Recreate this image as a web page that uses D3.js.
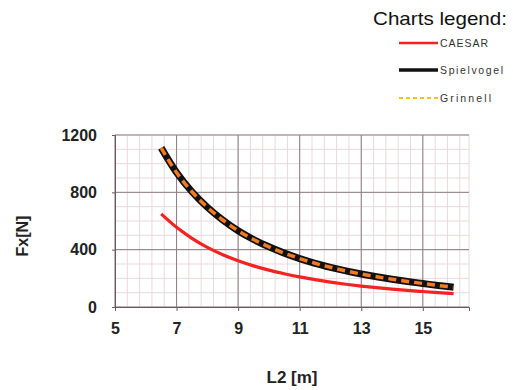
<!DOCTYPE html>
<html>
<head>
<meta charset="utf-8">
<script src="https://cdn.jsdelivr.net/npm/d3@7/dist/d3.min.js"></script>
<style>
  html, body { margin: 0; padding: 0; background: #fff; }
  svg { display: block; font-family: "Liberation Sans", Arial, sans-serif; }
</style>
</head>
<body>
<svg id="chart" width="513" height="390"></svg>
<script>
// Cable length L2 [m] against horizontal force Fx [N]
const lengths = [6.5, 7, 7.5, 8, 8.5, 9, 9.5, 10, 10.5, 11, 11.5, 12, 12.5, 13, 13.5, 14, 14.5, 15, 15.5, 16];
const caesar = [650, 556, 479, 416, 365, 323, 287, 257, 232, 210, 191, 174, 159, 146, 135, 125, 116, 108, 100, 93];
const spielvogel = [1110, 938, 804, 696, 607, 532, 471, 420, 376, 338, 305, 277, 252, 230, 211, 194, 178, 164, 150, 138];
const grinnell = [1110, 938, 804, 696, 607, 532, 471, 420, 376, 338, 305, 277, 252, 230, 211, 194, 178, 164, 150, 138];

const xTicks = [5, 7, 9, 11, 13, 15];
const yTicks = [0, 400, 800, 1200];
const legendNames = ["CAESAR", "Spielvogel", "Grinnell"];

const svg = d3.select("#chart");
const x = d3.scaleLinear().domain([5, 16.5]).range([115, 469]);
const y = d3.scaleLinear().domain([0, 1200]).range([307, 135]);

// grid: minor every 0.4 m / 100 N, major every 2 m / 400 N
const grid = svg.append("g");
const minorX = d3.range(5, 16.5 + 1e-9, 0.4).concat([16.5]);
const minorY = d3.range(0, 1200 + 1e-9, 100);
grid.selectAll(".mx").data(minorX).join("line")
  .attr("x1", d => x(d)).attr("x2", d => x(d))
  .attr("y1", y(0)).attr("y2", y(1200))
  .attr("stroke", "#ead9dc").attr("stroke-width", 1);
grid.selectAll(".my").data(minorY).join("line")
  .attr("x1", x(5)).attr("x2", x(16.5))
  .attr("y1", d => y(d)).attr("y2", d => y(d))
  .attr("stroke", "#ead9dc").attr("stroke-width", 1);
grid.selectAll(".Mx").data(xTicks).join("line")
  .attr("x1", d => x(d)).attr("x2", d => x(d))
  .attr("y1", y(0)).attr("y2", y(1200))
  .attr("stroke", "#8d7c82").attr("stroke-width", 1);
grid.selectAll(".My").data(yTicks).join("line")
  .attr("x1", x(5)).attr("x2", x(16.5))
  .attr("y1", d => y(d)).attr("y2", d => y(d))
  .attr("stroke", "#8d7c82").attr("stroke-width", 1);

// axes
const xAxis = svg.append("g").attr("transform", `translate(0,${y(0)})`)
  .call(d3.axisBottom(x).tickValues(xTicks).tickSize(4).tickPadding(12).tickFormat(d3.format("d")));
xAxis.select(".domain").attr("stroke", "#6a5a60");
xAxis.selectAll(".tick line").attr("stroke", "#6a5a60");
xAxis.selectAll("text").attr("font-size", 16).attr("fill", "#222").attr("font-weight", "bold");

const yAxis = svg.append("g").attr("transform", `translate(${x(5)},0)`)
  .call(d3.axisLeft(y).tickValues(yTicks).tickSize(3).tickPadding(15).tickFormat(d3.format("d")));
yAxis.select(".domain").attr("stroke", "#6a5a60");
yAxis.selectAll(".tick line").attr("stroke", "#6a5a60");
yAxis.selectAll("text").attr("font-size", 16).attr("fill", "#222").attr("font-weight", "bold");

// axis titles
svg.append("text").attr("x", 292).attr("y", 383).attr("text-anchor", "middle")
  .attr("font-size", 17).attr("font-weight", "bold").attr("fill", "#222").text("L2 [m]");
svg.append("text").attr("transform", "translate(28,236) rotate(-90)").attr("text-anchor", "middle")
  .attr("font-size", 16).attr("font-weight", "bold").attr("fill", "#222").text("Fx[N]");

// curves
const line = d3.line().x(d => x(d[0])).y(d => y(d[1])).curve(d3.curveMonotoneX);
const pts = vals => lengths.map((l, i) => [l, vals[i]]);
svg.append("path").attr("d", line(pts(caesar))).attr("fill", "none")
  .attr("stroke", "#f52222").attr("stroke-width", 3.2);
svg.append("path").attr("d", line(pts(spielvogel))).attr("fill", "none")
  .attr("stroke", "#111").attr("stroke-width", 7);
svg.append("path").attr("d", line(pts(grinnell))).attr("fill", "none")
  .attr("stroke", "#f47a22").attr("stroke-width", 3.5).attr("stroke-dasharray", "8,5");

// legend
svg.append("text").attr("x", 373).attr("y", 25).attr("font-size", 19).attr("fill", "#111")
  .attr("textLength", 134).attr("lengthAdjust", "spacingAndGlyphs").text("Charts legend:");
const legendStyles = [
  { color: "#f52222", width: 2.5, dash: null, y: 43, len: 48 },
  { color: "#111", width: 3.5, dash: null, y: 70, len: 63 },
  { color: "#f5c020", width: 2, dash: "4,3", y: 98, len: 51 }
];
legendNames.forEach((name, i) => {
  const s = legendStyles[i];
  svg.append("line").attr("x1", 399).attr("x2", 438).attr("y1", s.y).attr("y2", s.y)
    .attr("stroke", s.color).attr("stroke-width", s.width).attr("stroke-dasharray", s.dash);
  svg.append("text").attr("x", 440).attr("y", s.y + 4).attr("font-size", 10.5).attr("fill", "#333")
    .attr("textLength", s.len).attr("lengthAdjust", "spacing").text(name);
});
</script>
</body>
</html>
